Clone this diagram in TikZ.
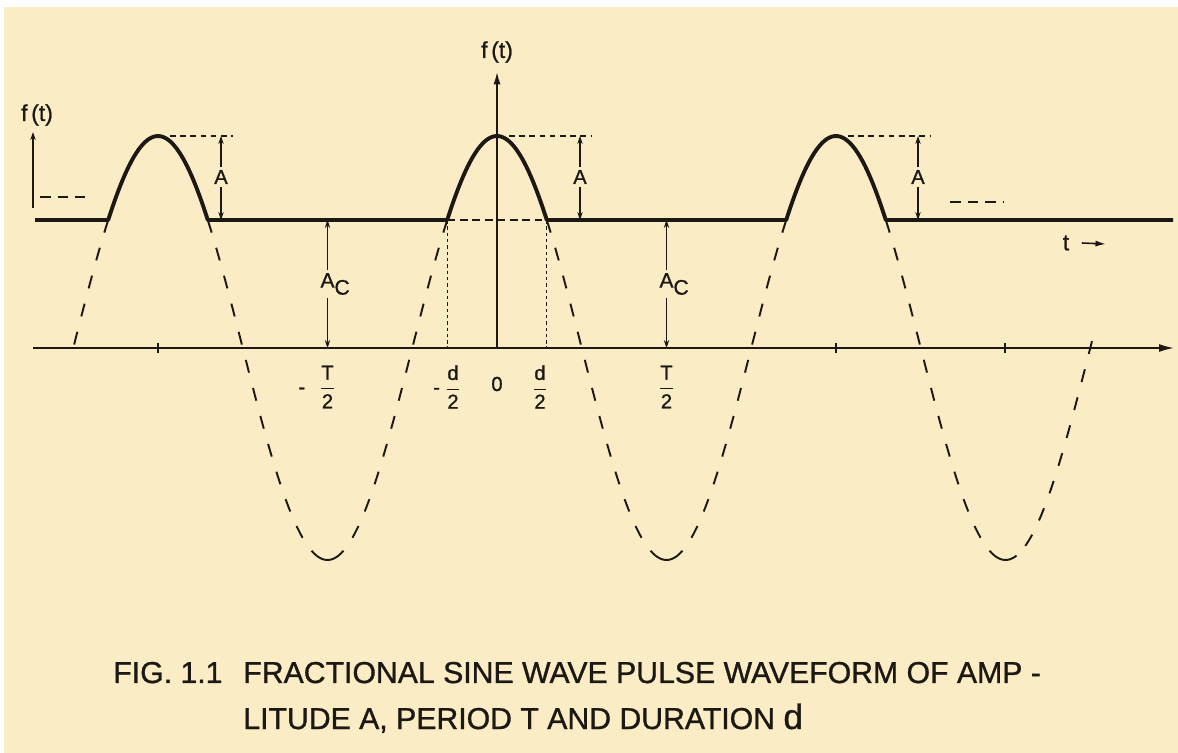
\documentclass[tikz,border=0pt]{standalone}
\usepackage{fontspec}
\setmainfont{Liberation Sans}[FakeBold=1]
\usetikzlibrary{positioning, arrows.meta}

\definecolor{paper}{RGB}{250,236,196}
\definecolor{ink}{RGB}{28,24,20}

% geometry of the drawing (pixel units)
\def\Tp{339}   % period
\def\Ra{212}   % amplitude of the full sine
\def\xo{497}   % t = 0
\def\yax{348}  % time axis
\def\yc{220}   % clipping level

\begin{document}
\begin{tikzpicture}[x=0.02cm, y=-0.02cm, color=ink,
  declare function={wav(\t)=\yax-\Ra*cos((360/\Tp)*(\t-\xo));},
  wave/.style={line width=2.2pt, line join=round},
  ghost/.style={line width=1.1pt, dash pattern=on 7.5pt off 9pt},
  trough/.style={line width=1.1pt},
  axis/.style={line width=0.9pt, -{Latex[length=8.5pt, width=4.5pt]}},
  guide/.style={line width=0.6pt, dash pattern=on 3.2pt off 2.6pt},
  vguide/.style={line width=0.7pt, dash pattern=on 2pt off 1.6pt},
  cutline/.style={line width=1.3pt, dash pattern=on 4.5pt off 2.6pt},
  etc/.style={line width=1.4pt, dash pattern=on 6pt off 4pt},
  dim/.style={line width=0.6pt, -{Stealth[length=4.5pt, width=3pt]}},
  tickmark/.style={line width=1pt},
  lbl/.style={font=\fontsize{11.5}{13}\selectfont, inner sep=1.5pt},
  flbl/.style={font=\fontsize{13}{15}\selectfont, inner sep=1pt},
  figcap/.style={font=\fontsize{17.2}{20}\selectfont, inner sep=0pt},
]

% Paper
\fill[white] (0,0) rectangle (1178,753);
\fill[paper] (4,7) rectangle (1178,753);
\useasboundingbox (0,0) rectangle (1178,753);

\pgfmathsetmacro\hw{\Tp/360*acos((\yax-\yc)/\Ra)}
\pgfmathsetmacro\pa{\xo-\Tp-\hw}
\pgfmathsetmacro\pb{\xo-\Tp+\hw}
\pgfmathsetmacro\pc{\xo-\hw}
\pgfmathsetmacro\pd{\xo+\hw}
\pgfmathsetmacro\pe{\xo+\Tp-\hw}
\pgfmathsetmacro\pf{\xo+\Tp+\hw}

% Time axis
\coordinate (tstart) at (33,\yax);
\coordinate (tend) at (1174,\yax);
\draw[axis] (tstart) -- (tend);
\foreach \xt in {158, 836, 1005}
  \draw[tickmark] (\xt,343) -- (\xt,353);

% f(t) axis at t = 0
\coordinate (origin) at (\xo,\yax);
\coordinate (ftop) at (\xo,72);
\node[flbl] (fcen) at (\xo,52) {f\,(t)};
\draw[axis, -{Latex[length=7pt, width=4pt]}] (origin) -- (ftop);

% Small f(t) arrow on the left
\coordinate (fl0) at (33,208);
\coordinate (fl1) at (33,132);
\node[flbl] (fleft) at (37,115) {f\,(t)};
\draw[dim, line width=0.7pt] (fl0) -- (fl1);

% Dashed remainder of the sine wave
\draw[ghost] plot[domain=\pa:73, samples=20] (\x,{wav(\x)});
\foreach \xm in {327.5, 666.5, 1005.5} {
  \pgfmathsetmacro\xl{\xm-\Tp/2+\hw}
  \pgfmathsetmacro\xr{min(\xm+\Tp/2-\hw,1092)}
  \pgfmathsetmacro\xa{\xm-11}
  \pgfmathsetmacro\xb{\xm+11}
  \draw[ghost] plot[domain=\xl:\xa, samples=40] (\x,{wav(\x)});
  \draw[ghost] plot[domain=\xr:\xb, samples=40] (\x,{wav(\x)});
  \draw[trough] plot[domain=\xa:\xb, samples=12] (\x,{wav(\x)});
}

% Pulse waveform
\coordinate (b0) at (35,\yc);
\coordinate (b1) at (1173,\yc);
\draw[wave] (b0) -- plot[domain=\pa:\pb, samples=40] (\x,{wav(\x)})
  -- plot[domain=\pc:\pd, samples=40] (\x,{wav(\x)})
  -- plot[domain=\pe:\pf, samples=40] (\x,{wav(\x)}) -- (b1);

% Duration d
\coordinate (dl0) at (\pc,\yc);
\coordinate (dl1) at (\pc,\yax);
\coordinate (dr0) at (\pd,\yc);
\coordinate (dr1) at (\pd,\yax);
\draw[vguide] (dl0) -- (dl1);
\draw[vguide] (dr0) -- (dr1);
\draw[cutline] (dl0) -- (dr0);

% Amplitude A of each pulse
\foreach \i/\xp/\xd in {1/158/221, 2/497/580, 3/836/918} {
  \coordinate (pk\i) at (\xp+12,136);
  \coordinate (at\i) at (\xd,136);
  \coordinate (ab\i) at (\xd,\yc);
  \draw[guide] (pk\i) -- ([xshift=7pt]at\i);
  \node[lbl] (a\i) at (\xd,177) {A};
  \draw[dim] (a\i) -- (at\i);
  \draw[dim] (a\i) -- (ab\i);
}

% Clipping level A_C
\foreach \i/\xd in {1/327.5, 2/666.5} {
  \coordinate (ct\i) at (\xd,\yc);
  \coordinate (cb\i) at (\xd,\yax);
  \node[lbl, font=\fontsize{12}{14}\selectfont] (ac\i) at (\xd,284)
    {A\rlap{\raisebox{-4pt}{C}}};
  \draw[dim] (ac\i) -- (ct\i);
  \draw[dim] (ac\i) -- (cb\i);
}

% Labels on the time axis
\node[lbl] (mhalf) at (327.5,387) {\llap{-\hspace{8pt}}$\displaystyle\frac{\mathrm{T}}{\mathrm{2}}$};
\node[lbl] (mdur) at (453,387) {\llap{-\hspace{3pt}}$\displaystyle\frac{\mathrm{d}}{\mathrm{2}}$};
\node[lbl] (zero) at (\xo,384) {0};
\node[lbl] (pdur) at (540,387) {$\displaystyle\frac{\mathrm{d}}{\mathrm{2}}$};
\node[lbl] (phalf) at (666.5,387) {$\displaystyle\frac{\mathrm{T}}{\mathrm{2}}$};

% Continuation marks
\coordinate (el0) at (40,197);
\coordinate (el1) at (85,197);
\coordinate (er0) at (950,202);
\coordinate (er1) at (1004,202);
\draw[etc] (el0) -- (el1);
\draw[etc] (er0) -- (er1);

% t arrow
\node[flbl] (tlbl) at (1066,243) {t};
\coordinate (tarr) at (1106,244);
\draw[dim, line width=0.9pt, -{Latex[length=6pt, width=3.5pt]}] ([xshift=6pt]tlbl.east) -- (tarr);

% Caption
\node[figcap, anchor=base west] (fig) at (113,683) {FIG. 1.1};
\node[figcap, anchor=base west] (cap1) at (243,683)
  {FRACTIONAL SINE WAVE PULSE WAVEFORM OF AMP -};
\node[figcap, anchor=base west] (cap2) at (243,729)
  {LITUDE A, PERIOD T AND DURATION {\fontsize{20}{22}\selectfont d}};

\end{tikzpicture}
\end{document}
